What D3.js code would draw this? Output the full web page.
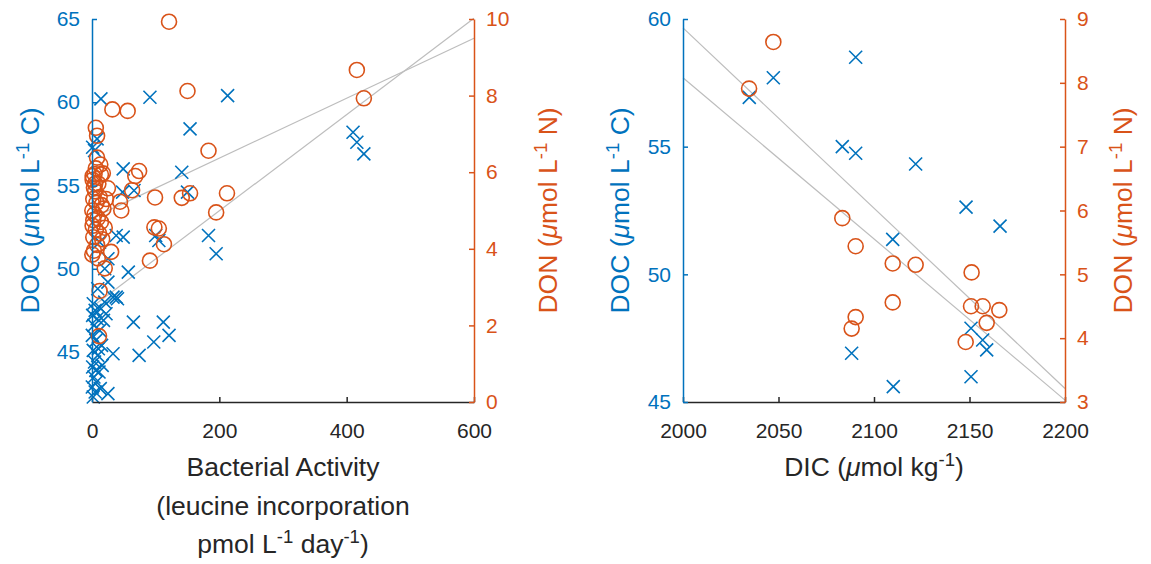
<!DOCTYPE html>
<html>
<head>
<meta charset="utf-8">
<script src="https://cdn.jsdelivr.net/npm/d3@7"></script>
<style>
  body { margin: 0; background: #fff; }
  text { font-family: "Liberation Sans", Arial, Helvetica, sans-serif; }
</style>
</head>
<body>
<div id="chart"></div>
<script>
var width = 1151;
var height = 564;

var blue = "#0072BD";
var orange = "#D95319";
var dark = "#262626";
var grey = "#bdbdbd";

// left panel: bacterial activity vs DOC (x markers)
var baDoc = [14, 91, 213, 154, 410, 416, 427, 8, 1, 4, 49, 141, 48, 66, 150, 183, 195, 105, 100, 49, 12, 25, 20, 57, 25, 9, 38, 33, 40, 38,
  65, 112, 121, 97, 74, 33, 25,
  2, 5, 1, 8, 3, 12, 0.5, 6, 15, 2, 9, 4, 1, 11, 3, 7, 0.5, 5, 2, 14, 18, 10, 6, 16, 20, 22, 13];
var docBa = [60.2, 60.3, 60.4, 58.4, 58.2, 57.6, 56.9, 57.8, 57.3, 57.1, 56.0, 55.8, 54.6, 54.7, 54.6, 52.0, 50.9, 51.7, 52.0, 51.9, 51.6, 50.6, 50.0, 49.8, 49.2, 48.8, 48.3, 48.3, 48.2, 52.0,
  46.8, 46.8, 46.0, 45.6, 44.8, 44.9, 42.5,
  47.9, 47.5, 47.2, 47.0, 46.6, 46.3, 46.0, 45.7, 45.4, 45.1, 44.8, 44.4, 44.1, 43.8, 43.5, 43.2, 42.9, 42.6, 42.3, 47.6, 46.9, 45.2, 43.9, 44.2, 48.0, 47.3, 42.8];

// left panel: bacterial activity vs DON (o markers)
var baDon = [121, 416, 427, 150, 32, 56, 6, 8, 8, 183, 74, 68, 212, 195, 141, 154, 105, 113, 99, 63, 46, 44, 98, 91, 30, 20, 12, 11, 17, 25, 14, 1, 15,
  1, 3, 5, 2, 7, 0.5, 4, 9, 1, 6, 11, 2, 8, 3, 0.5, 12, 10, 6, 14, 16, 18, 4, 20, 13, 22, 2, 9, 5];
var donBa = [9.93, 8.67, 7.93, 8.12, 7.64, 7.6, 7.16, 6.95, 6.38, 6.56, 6.03, 5.9, 5.45, 4.95, 5.33, 5.45, 4.53, 4.12, 5.34, 5.53, 5.0, 5.23, 4.56, 3.69, 3.92, 3.49, 2.9, 1.72, 5.97, 5.58, 5.94, 5.9, 5.14,
  5.8, 5.6, 5.5, 5.3, 5.2, 5.0, 4.9, 4.8, 4.6, 4.5, 4.4, 4.3, 4.1, 3.95, 3.85, 5.35, 5.7, 6.1, 4.7, 4.25, 5.05, 5.95, 4.55, 6.2, 5.3, 4.75, 3.75, 5.7];

// right panel: DIC vs DOC and DON
var dicDoc = [2034.7, 2047.3, 2090.4, 2083.4, 2090.4, 2121.8, 2148.2, 2166, 2109.8, 2150.8, 2156.9, 2159, 2088.3, 2110.1, 2150.8];
var docDic = [56.93, 57.70, 58.50, 55.00, 54.74, 54.32, 52.63, 51.89, 51.37, 47.89, 47.43, 47.04, 46.91, 45.60, 45.99];
var dicDon = [2034.6, 2047.3, 2083.4, 2090.4, 2109.8, 2121.8, 2151.1, 2109.8, 2090.4, 2088.3, 2150.8, 2156.9, 2165.6, 2159.0, 2148.0];
var donDic = [7.91, 8.64, 5.88, 5.44, 5.17, 5.15, 5.03, 4.56, 4.33, 4.15, 4.50, 4.50, 4.44, 4.24, 3.94];

// linear fits [intercept, slope]
var fitDocBa = [47.7, 0.0289];
var fitDonBa = [4.80, 0.00783];
var fitDocDic = [200.85, -0.0706];
var fitDonDic = [58.58, -0.02525];

// ticks
var baTicks = [0, 200, 400, 600];
var docTicksL = [45, 50, 55, 60, 65];
var donTicksL = [0, 2, 4, 6, 8, 10];
var dicTicks = [2000, 2050, 2100, 2150, 2200];
var docTicksR = [45, 50, 55, 60];
var donTicksR = [3, 4, 5, 6, 7, 8, 9];

var svg = d3.select("#chart")
  .append("svg")
  .attr("width", width)
  .attr("height", height);

var plotTop = 19, plotBottom = 402;
var tickFont = 21, labelFont = 26.5;
var fmt = d3.format("d");

function addLabel(g, parts, size) {
  // parts: [text, kind] kind = "n" normal, "i" italic, "s" superscript
  var t = g.append("text").attr("font-size", size + "px");
  var lastSup = false;
  parts.forEach(function (p) {
    var ts = t.append("tspan").text(p[0]);
    if (p[1] == "i") ts.attr("font-style", "italic");
    if (p[1] == "s") {
      ts.attr("font-size", (size * 0.7) + "px").attr("dy", -size * 0.38);
      lastSup = true;
    } else if (lastSup) {
      ts.attr("dy", size * 0.38);
      lastSup = false;
    }
  });
  return t;
}

function drawPanel(p) {
  var x = d3.scaleLinear().domain(p.xDom).range([p.x0, p.x1]);
  var yL = d3.scaleLinear().domain(p.yLDom).range([plotBottom, plotTop]);
  var yR = d3.scaleLinear().domain(p.yRDom).range([plotBottom, plotTop]);

  var g = svg.append("g");

  // fit lines
  g.append("line")
    .attr("x1", x(p.xDom[0])).attr("x2", x(p.xDom[1]))
    .attr("y1", yL(p.fitL[0] + p.fitL[1] * p.xDom[0]))
    .attr("y2", yL(p.fitL[0] + p.fitL[1] * p.xDom[1]))
    .attr("stroke", grey).attr("stroke-width", 1.2);
  g.append("line")
    .attr("x1", x(p.xDom[0])).attr("x2", x(p.xDom[1]))
    .attr("y1", yR(p.fitR[0] + p.fitR[1] * p.xDom[0]))
    .attr("y2", yR(p.fitR[0] + p.fitR[1] * p.xDom[1]))
    .attr("stroke", grey).attr("stroke-width", 1.2);

  // x markers
  var s = 6.5;
  g.append("g").selectAll("path")
    .data(d3.range(p.xa.length))
    .enter()
    .append("path")
    .attr("d", function (i) {
      var cx = x(p.xa[i]), cy = yL(p.ya[i]);
      return "M" + (cx - s) + "," + (cy - s) + "L" + (cx + s) + "," + (cy + s) +
        "M" + (cx - s) + "," + (cy + s) + "L" + (cx + s) + "," + (cy - s);
    })
    .attr("stroke", blue).attr("stroke-width", 1.6).attr("fill", "none");

  // o markers
  g.append("g").selectAll("circle")
    .data(d3.range(p.xb.length))
    .enter()
    .append("circle")
    .attr("cx", function (i) { return x(p.xb[i]); })
    .attr("cy", function (i) { return yR(p.yb[i]); })
    .attr("r", 7.5)
    .attr("stroke", orange).attr("stroke-width", 1.6).attr("fill", "none");

  // axes
  var ax = g.append("g")
    .attr("transform", "translate(0," + plotBottom + ")")
    .call(d3.axisBottom(x).tickValues(p.xTicks).tickFormat(fmt).tickSizeInner(-5).tickSizeOuter(0).tickPadding(21));
  ax.selectAll("path, line").attr("stroke", dark).attr("stroke-width", 1.5);
  ax.selectAll("text").attr("fill", dark).attr("font-size", tickFont + "px").attr("font-family", null);

  var al = g.append("g")
    .attr("transform", "translate(" + p.x0 + ",0)")
    .call(d3.axisLeft(yL).tickValues(p.yLTicks).tickFormat(fmt).tickSizeInner(-5).tickSizeOuter(0).tickPadding(12));
  al.selectAll("path, line").attr("stroke", blue).attr("stroke-width", 1.5);
  al.selectAll("text").attr("fill", blue).attr("font-size", tickFont + "px").attr("font-family", null);

  var ar = g.append("g")
    .attr("transform", "translate(" + p.x1 + ",0)")
    .call(d3.axisRight(yR).tickValues(p.yRTicks).tickFormat(fmt).tickSizeInner(-5).tickSizeOuter(0).tickPadding(12));
  ar.selectAll("path, line").attr("stroke", orange).attr("stroke-width", 1.5);
  ar.selectAll("text").attr("fill", orange).attr("font-size", tickFont + "px").attr("font-family", null);

  // titles
  var mid = (plotTop + plotBottom) / 2;
  var tl = addLabel(g.append("g").attr("transform", "translate(" + p.tLx + "," + mid + ") rotate(-90)"),
    [["DOC (", "n"], ["\u03bc", "i"], ["mol L", "n"], ["-1", "s"], [" C)", "n"]], labelFont);
  tl.attr("text-anchor", "middle").attr("y", 9).attr("fill", blue);
  var tr = addLabel(g.append("g").attr("transform", "translate(" + p.tRx + "," + mid + ") rotate(-90)"),
    [["DON (", "n"], ["\u03bc", "i"], ["mol L", "n"], ["-1", "s"], [" N)", "n"]], labelFont);
  tr.attr("text-anchor", "middle").attr("y", 9).attr("fill", orange);

  p.xLabel.forEach(function (line, k) {
    var t = addLabel(g.append("g").attr("transform", "translate(" + ((p.x0 + p.x1) / 2) + "," + (476 + k * 38.5) + ")"), line, labelFont);
    t.attr("text-anchor", "middle").attr("fill", dark);
  });
}

drawPanel({
  x0: 92, x1: 474,
  xDom: [0, 600], yLDom: [42, 65], yRDom: [0, 10],
  xTicks: baTicks, yLTicks: docTicksL, yRTicks: donTicksL,
  xa: baDoc, ya: docBa, xb: baDon, yb: donBa,
  fitL: fitDocBa, fitR: fitDonBa,
  tLx: 30, tRx: 548,
  xLabel: [
    [["Bacterial Activity", "n"]],
    [["(leucine incorporation", "n"]],
    [["pmol L", "n"], ["-1", "s"], [" day", "n"], ["-1", "s"], [")", "n"]]
  ]
});

drawPanel({
  x0: 683, x1: 1065,
  xDom: [2000, 2200], yLDom: [45, 60], yRDom: [3, 9],
  xTicks: dicTicks, yLTicks: docTicksR, yRTicks: donTicksR,
  xa: dicDoc, ya: docDic, xb: dicDon, yb: donDic,
  fitL: fitDocDic, fitR: fitDonDic,
  tLx: 620, tRx: 1123,
  xLabel: [
    [["DIC (", "n"], ["\u03bc", "i"], ["mol kg", "n"], ["-1", "s"], [")", "n"]]
  ]
});
</script>
</body>
</html>
